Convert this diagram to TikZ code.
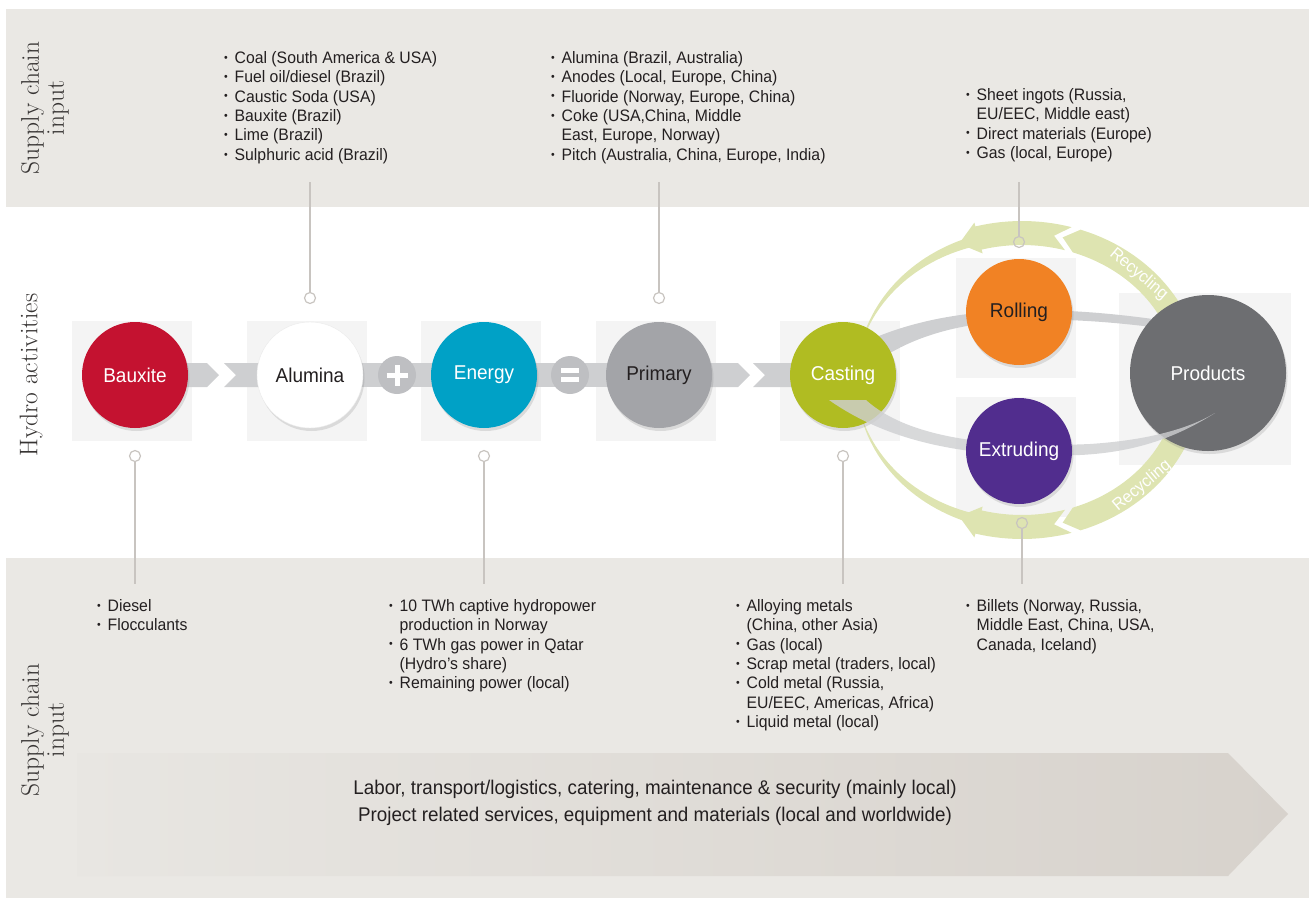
\documentclass[tikz,border=0pt]{standalone}
\usepackage{fontspec}
\usepackage{tikz}
\newfontfamily\hydrosans{Liberation Sans}[FakeStretch=0.95]
\definecolor{bandbg}{RGB}{234,232,228}
\definecolor{tilegray}{RGB}{244,244,244}
\definecolor{chevgray}{RGB}{206,207,209}
\definecolor{opgray}{RGB}{190,191,194}
\definecolor{ringgreen}{RGB}{222,228,177}
\definecolor{linegray}{RGB}{200,196,192}
\definecolor{txt}{RGB}{35,31,32}
\definecolor{sidetxt}{RGB}{55,52,51}
\definecolor{bauxred}{RGB}{196,18,48}
\definecolor{energyblue}{RGB}{0,161,198}
\definecolor{primgray}{RGB}{163,164,168}
\definecolor{castgreen}{RGB}{176,188,34}
\definecolor{rollorange}{RGB}{241,130,36}
\definecolor{extpurple}{RGB}{81,45,142}
\definecolor{prodgray}{RGB}{109,110,113}
\definecolor{arrowdark}{RGB}{215,210,204}
\definecolor{arrowlight}{RGB}{232,230,226}
\usetikzlibrary{shadows}

\newcommand{\bul}{\makebox[10.5pt][l]{\raisebox{2.2pt}{\fontsize{11}{11}\selectfont\textbullet}}}
\newcommand{\cnt}{\hspace*{10.5pt}}

\begin{document}
\begin{tikzpicture}[x=1pt, y=-1pt,
    stage/.style={circle, minimum size=106pt, inner sep=0pt, text=white,
                  font=\hydrosans\fontsize{20}{22}\selectfont,
                  drop shadow={shadow xshift=1.5pt, shadow yshift=-3pt, opacity=0.22}},
    tile/.style={fill=tilegray},
    chev/.style={fill=chevgray},
    opnode/.style={circle, fill=opgray, minimum size=38pt, inner sep=0pt},
    opsign/.style={draw=white, line width=5pt},
    ring/.style={fill=ringgreen},
    loopband/.style={fill=chevgray},
    dot/.style={circle, draw=linegray, line width=1.2pt, minimum size=11pt, inner sep=0pt},
    link/.style={draw=linegray, line width=1.2pt},
    list/.style={anchor=north west, inner sep=0pt, align=left, text=txt,
                 font=\hydrosans\fontsize{16.6}{19.4}\selectfont},
    side/.style={rotate=90, align=center, text=sidetxt, font=\fontsize{25.5}{25}\selectfont},
    recyc/.style={text=white, font=\hydrosans\fontsize{17}{17}\selectfont}
]
    \useasboundingbox (0,0) rectangle (1309,898);
    % bands
    \fill[bandbg] (6,9) rectangle (1309,207);
    \fill[bandbg] (6,558) rectangle (1309,898);
    \shade[left color=arrowlight, right color=arrowdark]
        (77,753) -- (1228,753) -- (1288,814) -- (1228,876) -- (77,876) -- cycle;

    % tiles behind the stages
    \foreach \cx/\cy/\s in {135/375/120, 310/375/120, 484/375/120, 659/375/120,
                            843/375/120, 1019/312/120, 1019/451/120, 1208/373/172}
        \fill[tile] (\cx-3-\s/2, \cy+6-\s/2) rectangle ++(\s,\s);

    % recycling ring
    \begin{scope}[shift={(1022,380)}]
        \fill[ring] plot[domain=-25:-71, samples=20] (\x:180 and 159) -- (-76:168 and 147)
            -- plot[domain=-71:-25, samples=20] (\x:156 and 135) -- cycle;
        \fill[ring] plot[domain=-74:-105, samples=16] (\x:180 and 159) -- (-105:184 and 163)
            -- (-112:168 and 147) -- (-105:152 and 131)
            -- plot[domain=-105:-74, samples=16] (\x:156 and 135) -- (-79:168 and 147) -- cycle;
        \fill[ring] plot[domain=-108:-168, samples=30] (\x:{166+5*(\x+168)/60} and {145+5*(\x+168)/60})
            -- plot[domain=-168:-108, samples=30] (\x:{166-5*(\x+168)/60} and {145-5*(\x+168)/60}) -- cycle;
        \fill[ring] plot[domain=25:71, samples=20] (\x:180 and 159) -- (76:168 and 147)
            -- plot[domain=71:25, samples=20] (\x:156 and 135) -- cycle;
        \fill[ring] plot[domain=74:105, samples=16] (\x:180 and 159) -- (105:184 and 163)
            -- (112:168 and 147) -- (105:152 and 131)
            -- plot[domain=105:74, samples=16] (\x:156 and 135) -- (79:168 and 147) -- cycle;
        \fill[ring] plot[domain=108:168, samples=30] (\x:{166+5*(168-\x)/60} and {145+5*(168-\x)/60})
            -- plot[domain=168:108, samples=30] (\x:{166-5*(168-\x)/60} and {145-5*(168-\x)/60}) -- cycle;
        \node[recyc, rotate=-40] (rectop) at (-46:168 and 147) {Recycling};
        \node[recyc, rotate=40] (recbot) at (45:170 and 150) {Recycling};
    \end{scope}

    % chevron bands
    \fill[chev] (135,363) -- (207,363) -- (219,375) -- (207,387) -- (135,387) -- cycle;
    \fill[chev] (224,363) -- (310,363) -- (310,387) -- (224,387) -- (236,375) -- cycle;
    \fill[chev] (310,363) rectangle (659,387);
    \fill[chev] (659,363) -- (738,363) -- (750,375) -- (738,387) -- (659,387) -- cycle;
    \fill[chev] (753,363) -- (843,363) -- (843,387) -- (753,387) -- (765,375) -- cycle;
    \fill[loopband] (865,342) .. controls (930,312) and (1020,300) .. (1160,320)
        -- (1160,328) .. controls (1020,310) and (940,322) .. (885,356) -- cycle;

    % plus and equals
    \node[opnode] (plus) at (397,375) {};
    \draw[opsign] ([xshift=-10.5pt]plus.center) -- ([xshift=10.5pt]plus.center);
    \draw[opsign] ([yshift=-10.5pt]plus.center) -- ([yshift=10.5pt]plus.center);
    \node[opnode] (equals) at (570,375) {};
    \draw[opsign, line width=4.5pt] ([xshift=-9pt,yshift=4.5pt]equals.center) -- ([xshift=9pt,yshift=4.5pt]equals.center);
    \draw[opsign, line width=4.5pt] ([xshift=-9pt,yshift=-4.5pt]equals.center) -- ([xshift=9pt,yshift=-4.5pt]equals.center);

    % stages
    \node[stage, fill=bauxred] (bauxite) at (135,375) {Bauxite};
    \node[stage, fill=white, draw=black!8, text=txt] (alumina) at (310,375) {Alumina};
    \node[stage, fill=energyblue] (energy) at (484,375) {Energy};
    \node[stage, fill=primgray, text=txt] (primary) at (659,375) {Primary};
    \node[stage, fill=castgreen] (casting) at (843,375) {Casting};
    \node[stage, fill=rollorange, text=txt] (rolling) at (1019,312) {Rolling};
    \node[stage, fill=prodgray, minimum size=156pt] (products) at (1208,373) {Products};
    \fill[loopband, opacity=0.8] (866,400) .. controls (910,440) and (1000,448) .. (1090,444)
        .. controls (1150,440) and (1190,428) .. (1215,413)
        .. controls (1180,435) and (1140,452) .. (1080,455)
        .. controls (990,458) and (900,450) .. (829,400) -- cycle;
    \node[stage, fill=extpurple] (extruding) at (1019,451) {Extruding};

    % connectors to the supply lists
    \node[dot] (dalu) at (310,298) {};
    \node[dot] (dprim) at (659,298) {};
    \node[dot] (droll) at (1019,242) {};
    \node[dot] (dbaux) at (135,456) {};
    \node[dot] (dener) at (484,456) {};
    \node[dot] (dcast) at (843,456) {};
    \node[dot] (dext) at (1022,523) {};
    \coordinate (talu) at (310,182);
    \coordinate (tprim) at (659,182);
    \coordinate (troll) at (1019,182);
    \coordinate (bbaux) at (135,584);
    \coordinate (bener) at (484,584);
    \coordinate (bcast) at (843,584);
    \coordinate (bext) at (1022,584);
    \draw[link] (talu) -- (dalu);
    \draw[link] (tprim) -- (dprim);
    \draw[link] (troll) -- (droll);
    \draw[link] (dbaux) -- (bbaux);
    \draw[link] (dener) -- (bener);
    \draw[link] (dcast) -- (bcast);
    \draw[link] (dext) -- (bext);

    % supply lists
    \node[list] (alulist) at (224,51) {\bul Coal (South America \& USA)\\ \bul Fuel oil/diesel (Brazil)\\
        \bul Caustic Soda (USA)\\ \bul Bauxite (Brazil)\\ \bul Lime (Brazil)\\ \bul Sulphuric acid (Brazil)};
    \node[list] (primlist) at (551,51) {\bul Alumina (Brazil, Australia)\\ \bul Anodes (Local, Europe, China)\\
        \bul Fluoride (Norway, Europe, China)\\ \bul Coke (USA,China, Middle\\ \cnt East, Europe, Norway)\\
        \bul Pitch (Australia, China, Europe, India)};
    \node[list] (rolllist) at (966,88) {\bul Sheet ingots (Russia,\\ \cnt EU/EEC, Middle east)\\
        \bul Direct materials (Europe)\\ \bul Gas (local, Europe)};
    \node[list] (bauxlist) at (97,599) {\bul Diesel\\ \bul Flocculants};
    \node[list] (enerlist) at (389,599) {\bul 10 TWh captive hydropower\\ \cnt production in Norway\\
        \bul 6 TWh gas power in Qatar\\ \cnt (Hydro’s share)\\ \bul Remaining power (local)};
    \node[list] (castlist) at (736,599) {\bul Alloying metals\\ \cnt (China, other Asia)\\ \bul Gas (local)\\
        \bul Scrap metal (traders, local)\\ \bul Cold metal (Russia,\\ \cnt EU/EEC, Americas, Africa)\\
        \bul Liquid metal (local)};
    \node[list] (extlist) at (966,599) {\bul Billets (Norway, Russia,\\ \cnt Middle East, China, USA,\\ \cnt Canada, Iceland)};

    \node[text=txt, align=center, font=\hydrosans\fontsize{19.8}{27}\selectfont] (services) at (655,803)
        {Labor, transport/logistics, catering, maintenance \& security (mainly local)\\
         Project related services, equipment and materials (local and worldwide)};

    % side labels
    \node[side] (topside) at (45,108) {Supply chain\\input};
    \node[side] (midside) at (31,375) {Hydro activities};
    \node[side] (botside) at (45,730) {Supply chain\\input};
\end{tikzpicture}
\end{document}
